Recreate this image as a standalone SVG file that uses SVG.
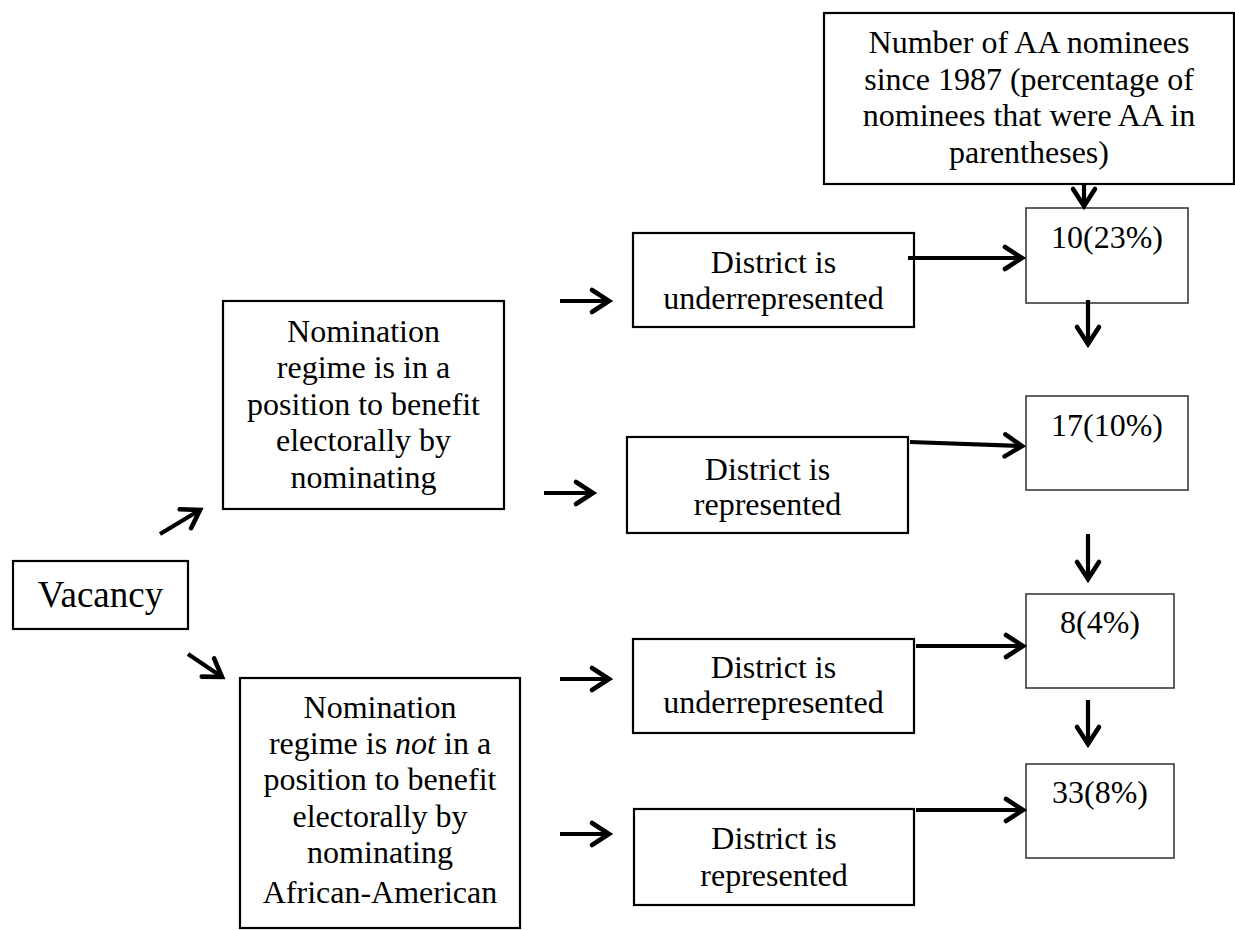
<svg xmlns="http://www.w3.org/2000/svg" width="1235" height="930" viewBox="0 0 1235 930">
<style>
  .box { fill: #fff; stroke: #000; stroke-width: 2.2; }
  .gbox { fill: #fff; stroke: #3a3a3a; stroke-width: 1.6; }
  text { font-family: "Liberation Serif", "Times New Roman", serif; font-size: 32px; fill: #000; text-anchor: middle; }
  .big { font-size: 37px; }
  .conn { stroke: #000; stroke-width: 4.2; fill: none; marker-end: url(#ah); }
</style>
<defs>
  <marker id="ah" markerUnits="userSpaceOnUse" markerWidth="32" markerHeight="32" viewBox="-22 -16 26 32" refX="0" refY="0" orient="auto">
    <path d="M -17,-11 L 0,0 L -17,11" fill="none" stroke="#000" stroke-width="4.6" stroke-linecap="round" stroke-linejoin="miter"/>
  </marker>
</defs>
<rect width="1235" height="930" fill="#fff"/>

<g id="legend">
  <rect class="box" x="824" y="13" width="410" height="171"/>
  <text x="1029" y="53">Number of AA nominees</text>
  <text x="1029" y="90">since 1987 (percentage of</text>
  <text x="1029" y="126">nominees that were AA in</text>
  <text x="1029" y="163">parentheses)</text>
</g>

<g id="vacancy">
  <rect class="box" x="13" y="561" width="175" height="68"/>
  <text class="big" x="100.5" y="607">Vacancy</text>
</g>

<g id="regime-yes">
  <rect class="box" x="223" y="301" width="281" height="208"/>
  <text x="363.5" y="342">Nomination</text>
  <text x="363.5" y="378">regime is in a</text>
  <text x="363.5" y="415">position to benefit</text>
  <text x="363.5" y="451">electorally by</text>
  <text x="363.5" y="488">nominating</text>
</g>

<g id="regime-no">
  <rect class="box" x="240" y="678" width="280" height="250"/>
  <text x="380" y="718">Nomination</text>
  <text x="380" y="754">regime is <tspan font-style="italic">not</tspan> in a</text>
  <text x="380" y="790">position to benefit</text>
  <text x="380" y="827">electorally by</text>
  <text x="380" y="863">nominating</text>
  <text x="380" y="903">African-American</text>
</g>

<g id="d1">
  <rect class="box" x="633" y="233" width="281" height="94"/>
  <text x="773.5" y="273">District is</text>
  <text x="773.5" y="309">underrepresented</text>
</g>
<g id="d2">
  <rect class="box" x="627" y="437" width="281" height="96"/>
  <text x="767.5" y="480">District is</text>
  <text x="767.5" y="515">represented</text>
</g>
<g id="d3">
  <rect class="box" x="633" y="639" width="281" height="94"/>
  <text x="773.5" y="678">District is</text>
  <text x="773.5" y="713">underrepresented</text>
</g>
<g id="d4">
  <rect class="box" x="634" y="809" width="280" height="96"/>
  <text x="774" y="849">District is</text>
  <text x="774" y="886">represented</text>
</g>

<g id="n1">
  <rect class="gbox" x="1026" y="208" width="162" height="95"/>
  <text x="1107" y="248">10(23%)</text>
</g>
<g id="n2">
  <rect class="gbox" x="1026" y="396" width="162" height="94"/>
  <text x="1107" y="436">17(10%)</text>
</g>
<g id="n3">
  <rect class="gbox" x="1026" y="594" width="148" height="94"/>
  <text x="1100" y="633">8(4%)</text>
</g>
<g id="n4">
  <rect class="gbox" x="1026" y="764" width="148" height="94"/>
  <text x="1100" y="803">33(8%)</text>
</g>

<g id="connectors">
  <line class="conn" x1="160" y1="534" x2="200" y2="510"/>
  <line class="conn" x1="188" y1="654" x2="222" y2="677"/>
  <line class="conn" x1="560" y1="301" x2="609" y2="301"/>
  <line class="conn" x1="544" y1="493" x2="593" y2="493"/>
  <line class="conn" x1="560" y1="679" x2="609" y2="679"/>
  <line class="conn" x1="560" y1="834" x2="609" y2="834"/>
  <line class="conn" x1="908" y1="258" x2="1022" y2="258"/>
  <line class="conn" x1="910" y1="442" x2="1022" y2="446"/>
  <line class="conn" x1="916" y1="646" x2="1023" y2="646"/>
  <line class="conn" x1="916" y1="810" x2="1023" y2="810"/>
  <line class="conn" x1="1084" y1="184" x2="1084" y2="206"/>
  <line class="conn" x1="1088" y1="300" x2="1088" y2="344"/>
  <line class="conn" x1="1088" y1="534" x2="1088" y2="579"/>
  <line class="conn" x1="1088" y1="700" x2="1088" y2="744"/>
</g>
</svg>
